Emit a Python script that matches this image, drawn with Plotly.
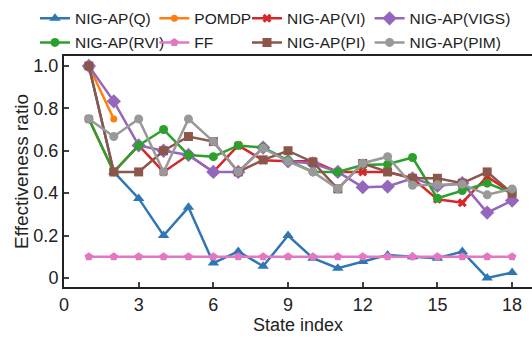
import plotly.graph_objects as go

states = list(range(1, 19))
x_ticks = [0, 3, 6, 9, 12, 15, 18]
y_ticks = [0, 0.2, 0.4, 0.6, 0.8, 1.0]
y_ticktext = ["0", "0.2", "0.4", "0.6", "0.8", "1.0"]

q_vals = [1.0, 0.5, 0.375, 0.2, 0.333, 0.07, 0.125, 0.055, 0.2, 0.093, 0.046, 0.077, 0.108, 0.1, 0.093, 0.124, 0.0, 0.025]
pomdp_states = [1, 2]
pomdp_vals = [1.0, 0.75]
vi_vals = [0.75, 0.5, 0.625, 0.5, 0.58, 0.5, 0.625, 0.555, 0.55, 0.55, 0.5, 0.5, 0.5, 0.47, 0.371, 0.355, 0.478, 0.4]
vigs_vals = [1.0, 0.833, 0.625, 0.6, 0.58, 0.5, 0.5, 0.615, 0.55, 0.54, 0.5, 0.428, 0.431, 0.47, 0.434, 0.447, 0.308, 0.365]
rvi_vals = [0.75, 0.5, 0.625, 0.7, 0.58, 0.572, 0.625, 0.615, 0.555, 0.5, 0.5, 0.533, 0.536, 0.568, 0.376, 0.412, 0.447, 0.4]
ff_vals = [0.1] * 18
pi_vals = [1.0, 0.5, 0.5, 0.6, 0.667, 0.643, 0.5, 0.557, 0.6, 0.546, 0.42, 0.54, 0.5, 0.47, 0.47, 0.447, 0.5, 0.4]
pim_vals = [0.75, 0.667, 0.75, 0.5, 0.75, 0.643, 0.5, 0.612, 0.55, 0.5, 0.42, 0.541, 0.572, 0.437, 0.439, 0.442, 0.392, 0.42]

series = [
    ("NIG-AP(Q)", states, q_vals, "#2f77b4", "triangle-up", 10, "legend"),
    ("POMDP", pomdp_states, pomdp_vals, "#ff7f0e", "circle", 7, "legend2"),
    ("NIG-AP(VI)", states, vi_vals, "#d62728", "x", 8, "legend3"),
    ("NIG-AP(VIGS)", states, vigs_vals, "#9467bd", "diamond", 11, "legend4"),
    ("NIG-AP(RVI)", states, rvi_vals, "#2ca02c", "circle", 9, "legend"),
    ("FF", states, ff_vals, "#e377c2", "pentagon", 9, "legend2"),
    ("NIG-AP(PI)", states, pi_vals, "#8c564b", "square", 9, "legend3"),
    ("NIG-AP(PIM)", states, pim_vals, "#999999", "circle", 9, "legend4"),
]

fig = go.Figure()
for name, xs, ys, color, sym, size, leg in series:
    fig.add_trace(go.Scatter(
        x=xs, y=ys, name=name, mode="lines+markers",
        line=dict(color=color, width=2.5),
        marker=dict(symbol=sym, size=size, color=color),
        legend=leg, legendgroup=name,
    ))

font_family = "Liberation Sans, Arial, sans-serif"
leg_common = dict(orientation="v", yanchor="top", xanchor="left", y=1.235,
                  bgcolor="rgba(0,0,0,0)", font=dict(size=15.5, color="#222", family=font_family),
                  tracegroupgap=1, itemwidth=30)

fig.update_layout(
    width=532, height=338,
    margin=dict(l=64, r=0, t=56, b=51, autoexpand=False),
    paper_bgcolor="white", plot_bgcolor="white",
    font=dict(family=font_family, color="#222"),
    legend=dict(x=-0.062, **leg_common),
    legend2=dict(x=0.193, **leg_common),
    legend3=dict(x=0.391, **leg_common),
    legend4=dict(x=0.653, **leg_common),
    xaxis=dict(range=[0, 18.8], tickvals=x_ticks, ticks="inside", ticklen=5, tickwidth=1.5,
               showline=True, linecolor="#222", linewidth=2, mirror=True, showgrid=False,
               zeroline=False, tickfont=dict(size=18), automargin=False,
               title=dict(text="State index", font=dict(size=18), standoff=4)),
    yaxis=dict(range=[-0.043, 1.047], tickvals=y_ticks, ticktext=y_ticktext, ticks="inside",
               ticklen=5, tickwidth=1.5, showline=True, linecolor="#222", linewidth=2,
               mirror=True, showgrid=False, zeroline=False, tickfont=dict(size=18), automargin=False,
               title=dict(text="Effectiveness ratio", font=dict(size=19), standoff=0)),
)

fig.write_html("out.html", config={"displayModeBar": False},
               post_script="document.body.style.margin='0';")
